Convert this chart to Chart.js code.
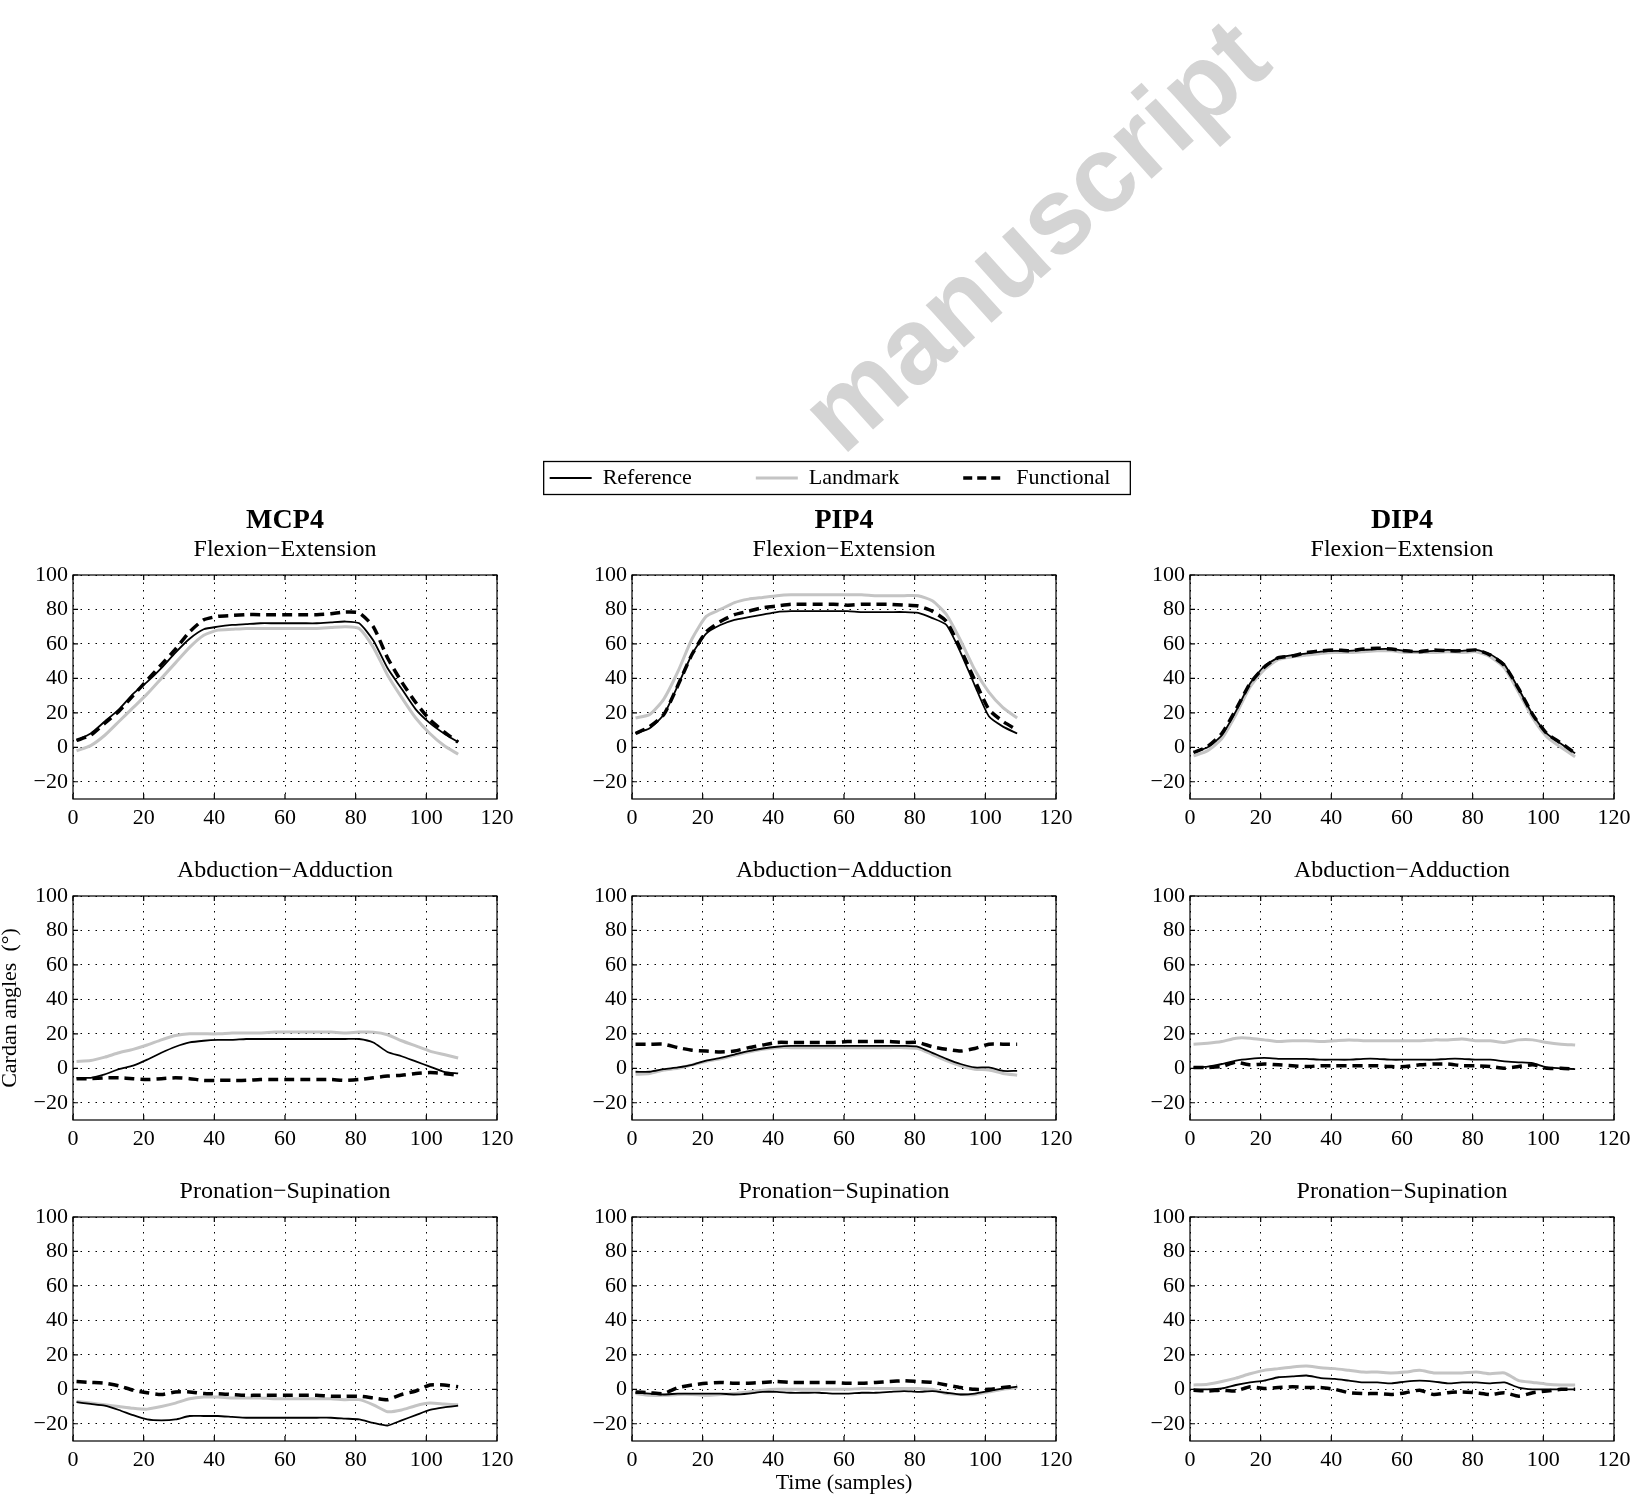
<!DOCTYPE html>
<html>
<head>
<meta charset="utf-8">
<script src="https://cdn.jsdelivr.net/npm/chart.js@4.4.1/dist/chart.umd.min.js"></script>
<style>
html, body { margin: 0; padding: 0; background: #fff; overflow: hidden; }
body { width: 1632px; height: 1496px; position: relative; }
.cell { position: absolute; }
</style>
</head>
<body>
<div class="cell" style="left:380px;top:0;width:900px;height:499px"><canvas id="legendCanvas"></canvas></div>
<div id="panels"></div>
<script>
// sample index (every 4th sample of the 109-sample trial)
const samples = [1, 5, 9, 13, 17, 21, 25, 29, 33, 37, 41, 45, 49, 53, 57, 61, 65, 69, 73, 77, 81, 85, 89, 93, 97, 101, 105, 109]
const xTicks = [0, 20, 40, 60, 80, 100, 120]
const yTicks = [-20, 0, 20, 40, 60, 80, 100]

const joints = ['MCP4', 'PIP4', 'DIP4']
const motions = ['Flexion\u2212Extension', 'Abduction\u2212Adduction', 'Pronation\u2212Supination']
const seriesNames = ['Reference', 'Landmark', 'Functional']

// Flexion-Extension
const mcpFeRef = [4, 8, 15, 22, 31, 38, 46, 55, 63, 68.5, 70, 71, 71.5, 72, 72, 72, 72, 72, 72.5, 73, 72, 62, 46, 34, 22, 14, 8, 3]
const mcpFeLand = [-2, 1, 7, 15, 23, 31, 40, 49, 58, 65, 68, 68.5, 69, 69, 69, 69, 69, 69, 69.5, 70, 69, 58, 42, 29, 17, 8, 1, -4]
const mcpFeFunc = [4, 7, 14, 21, 30, 39, 48, 57, 67, 74, 76, 76.5, 77, 77, 77, 77, 77, 77, 77.5, 78.5, 78, 70, 52, 38, 26, 16, 9, 3]
const pipFeRef = [8, 11, 19, 36, 54, 66, 71, 74, 75.5, 77, 78.5, 79, 79, 79, 79, 79, 78.5, 78.5, 78.5, 78.5, 78, 75, 71, 55, 36, 18, 12, 8]
const pipFeLand = [17, 19, 28, 44, 63, 76, 80, 84, 86, 87, 88, 88.5, 88.5, 88.5, 88.5, 88.5, 88.5, 88, 88, 88, 88, 85, 77, 62, 45, 32, 23, 17]
const pipFeFunc = [8, 12, 19, 36, 54, 67, 73, 77, 79, 81, 82, 83, 83, 83, 83, 82.5, 83, 83, 83, 82.5, 82, 79, 73, 57, 39, 22, 15, 10]
const dipFeRef = [-3, 0, 7, 21, 37, 47, 52, 53.5, 54.5, 55.5, 56, 56, 56.5, 57, 57, 56, 55.5, 56, 56.5, 56, 56.5, 54, 48, 34, 19, 8, 2, -3.5]
const dipFeLand = [-5, -2, 5, 19, 35, 45, 51, 52.5, 53.5, 54.5, 55, 55, 55.5, 56, 56, 55, 55, 55, 55.5, 55, 55.5, 52.5, 46, 32, 17, 6, 0, -5.5]
const dipFeFunc = [-3, 0.5, 8, 22, 37, 46.5, 52, 53, 55, 56, 56.5, 56, 57, 57.5, 57, 56, 55.5, 56.5, 56, 56, 56.5, 53.5, 47.5, 34, 19, 8, 2.5, -3.5]

// Abduction-Adduction
const mcpAaRef = [-5.5, -5.5, -3.5, -0.5, 1.5, 5, 9, 12.5, 15, 16, 16.5, 16.5, 17, 17, 17, 17, 17, 17, 17, 17, 17, 15, 9.5, 7, 4, 1, -2, -3]
const mcpAaLand = [4, 4.5, 6.5, 9, 11, 13.5, 16.5, 19, 20, 20, 20, 20.5, 20.5, 20.5, 21, 21, 21, 21, 21, 20.5, 21, 21, 19.5, 16, 13, 10, 8, 6]
const mcpAaFunc = [-6, -6, -5.5, -5.5, -6, -6.5, -6, -5.5, -6, -7, -7, -7, -7, -6.5, -6.5, -6.5, -6.5, -6.5, -6.5, -7, -6.5, -5.5, -4.5, -4, -3, -2.5, -3, -4]
const pipAaRef = [-2, -2, -0.5, 0.5, 2, 4.5, 6, 8, 10, 11.5, 12.5, 13, 13, 13, 13, 13, 13, 13, 13, 13, 12.5, 9, 5.5, 2.5, 0.5, 0.5, -1.5, -1.5]
const pipAaLand = [-3.5, -3, -1, 0, 2, 4, 5.5, 7.5, 9.5, 11, 12, 12, 12, 12, 12, 12, 12, 12, 12, 12, 11.5, 8, 4.5, 1.5, -0.5, -1, -3, -4]
const pipAaFunc = [14, 14, 14, 12, 10.5, 10, 9.5, 10, 12, 13.5, 15, 15, 15, 15, 15, 15.5, 15.5, 15.5, 15.5, 15, 15, 12.5, 11, 10, 11.5, 14, 14, 14]
const dipAaRef = [0.5, 1, 2.5, 4.5, 5.5, 6, 5.5, 5.5, 5.5, 5, 5, 5, 5.5, 5.5, 5, 5, 5, 5, 5.5, 5.5, 5, 5, 4, 3.5, 3, 0.5, 0, -0.5]
const dipAaLand = [14, 14.5, 15.5, 17.5, 17.5, 16.5, 15.5, 16, 16, 15.5, 16, 16.5, 16, 16, 16, 16, 16, 16.5, 16.5, 17, 16, 16, 15, 16.5, 16.5, 15, 14, 13.5]
const dipAaFunc = [0.5, 0.5, 1, 3.5, 2, 2.5, 2, 1.5, 1, 1.5, 1.5, 1.5, 1.5, 1.5, 1, 1, 2, 2.5, 2.5, 1.5, 1.5, 1, 0, 1, 2, 0, 0, -0.5]

// Pronation-Supination
const mcpPsRef = [-7.5, -8.5, -9.5, -12, -15, -17.5, -18, -17.5, -15.5, -15.5, -15.5, -16, -16.5, -16.5, -16.5, -16.5, -16.5, -16.5, -16.5, -17, -17.5, -19.5, -21, -18, -15, -12, -10.5, -9.5]
const mcpPsLand = [-7, -8, -9, -10, -11, -11.5, -10, -8, -5.5, -4.5, -4.5, -5, -5, -5, -5.5, -5.5, -5.5, -5.5, -5.5, -6, -6, -9, -13, -12, -9.5, -8, -8.5, -9]
const mcpPsFunc = [4.5, 4, 3.5, 2, -0.5, -2, -3, -1.5, -1.5, -2.5, -2.5, -3, -3.5, -3.5, -3.5, -3.5, -3.5, -3.5, -4, -4, -4, -5, -6, -3, -1, 2.5, 2.5, 1.5]
const pipPsRef = [-2, -2.5, -3, -2.5, -2.5, -2.5, -2.5, -3, -2.5, -1.5, -1.5, -2, -2, -2, -2.5, -2.5, -2, -2, -1.5, -1, -1.5, -1, -2, -3, -2.5, -1, 0.5, 1.5]
const pipPsLand = [-2.5, -3.5, -3.5, -3, -3, -3.5, -3, -2.5, -1.5, -0.5, 0, 0, 0, 0, 0, 0, 0.5, 0.5, 0.5, 0.5, 0.5, 0, -2.5, -3, -3, -1.5, 0, 1]
const pipPsFunc = [-1.5, -2, -2.5, 1, 2.5, 3.5, 4, 3.5, 3.5, 4, 4.5, 4, 4, 4, 4, 3.5, 3.5, 4, 4.5, 5, 4.5, 4, 2.5, 1, 0, 0, 1, 2]
const dipPsRef = [0, 0, 0.5, 2.5, 4, 5, 7, 7.5, 8, 6.5, 6, 5, 4, 4, 3.5, 4.5, 5, 4.5, 3.5, 4, 4, 3.5, 4, 1, 0, 0, 0, 0]
const dipPsLand = [2.5, 3, 4.5, 6.5, 9, 11, 12, 13, 13.5, 12.5, 12, 11, 10, 10, 9.5, 10, 11, 9.5, 9.5, 9.5, 10, 9, 9.5, 5, 4, 3, 2.5, 2.5]
const dipPsFunc = [-0.5, -1, -0.5, -1, 1.5, 0.5, 1, 1.5, 1, 1, 0, -2, -2.5, -2.5, -3, -2, -0.5, -3, -2, -1.5, -2, -3, -2, -4, -2, -1, 0, 0]

const panelData = [
    [[mcpFeRef, mcpFeLand, mcpFeFunc], [pipFeRef, pipFeLand, pipFeFunc], [dipFeRef, dipFeLand, dipFeFunc]],
    [[mcpAaRef, mcpAaLand, mcpAaFunc], [pipAaRef, pipAaLand, pipAaFunc], [dipAaRef, dipAaLand, dipAaFunc]],
    [[mcpPsRef, mcpPsLand, mcpPsFunc], [pipPsRef, pipPsLand, pipPsFunc], [dipPsRef, dipPsLand, dipPsFunc]]
]

const seriesColors = ['#000000', '#c4c4c4', '#000000']
const seriesWidths = [1.8, 3, 3.5]
const seriesDashes = [[], [], [10, 6]]
const seriesOrder = [1, 2, 0]

const serif = "'Liberation Serif', 'Times New Roman', serif"
Chart.defaults.font.family = serif
Chart.defaults.color = '#000'
Chart.defaults.animation = false

// page layout of the plot boxes
const plotLefts = [73, 632, 1190]
const plotTops = [575, 896, 1217]
const plotW = 424
const plotH = 224
const yAxisW = 76
const padRight = 28

const minusFmt = v => (v < 0 ? '\u2212' + Math.abs(v) : String(v))

const framePlugin = {
    id: 'frame',
    afterDraw(chart) {
        const {ctx, chartArea: a, scales} = chart
        ctx.save()
        ctx.setLineDash([])
        ctx.strokeStyle = '#000'
        ctx.lineWidth = 1.2
        ctx.strokeRect(a.left, a.top, a.right - a.left, a.bottom - a.top)
        ctx.beginPath()
        xTicks.forEach(v => {
            const px = scales.x.getPixelForValue(v)
            ctx.moveTo(px, a.bottom); ctx.lineTo(px, a.bottom - 5)
            ctx.moveTo(px, a.top); ctx.lineTo(px, a.top + 5)
        })
        yTicks.forEach(v => {
            const py = scales.y.getPixelForValue(v)
            ctx.moveTo(a.left, py); ctx.lineTo(a.left + 5, py)
            ctx.moveTo(a.right, py); ctx.lineTo(a.right - 5, py)
        })
        ctx.stroke()
        ctx.restore()
    }
}

const panelsEl = document.getElementById('panels')

for (let r = 0; r < 3; r++) {
    for (let c = 0; c < 3; c++) {
        const topBlock = r === 0 ? 72 : 44
        const hasXTitle = r === 2 && c === 1
        const hasYTitle = r === 1 && c === 0
        const xAxisH = hasXTitle ? 55 : 40

        const wrap = document.createElement('div')
        wrap.className = 'cell'
        wrap.style.left = (plotLefts[c] - yAxisW) + 'px'
        wrap.style.top = (plotTops[r] - topBlock) + 'px'
        wrap.style.width = (yAxisW + plotW + padRight) + 'px'
        wrap.style.height = (topBlock + plotH + xAxisH) + 'px'
        const canvas = document.createElement('canvas')
        wrap.appendChild(canvas)
        panelsEl.appendChild(wrap)

        const vals = panelData[r][c]
        const datasets = seriesNames.map((name, k) => ({
            label: name,
            data: vals[k],
            borderColor: seriesColors[k],
            borderWidth: seriesWidths[k],
            borderDash: seriesDashes[k],
            order: seriesOrder[k],
            pointRadius: 0,
            tension: 0.2,
            fill: false
        }))

        new Chart(canvas, {
            type: 'line',
            data: { labels: samples, datasets: datasets },
            options: {
                responsive: true,
                maintainAspectRatio: false,
                events: [],
                layout: { padding: { top: 4, right: padRight, bottom: 0, left: 0 } },
                scales: {
                    x: {
                        type: 'linear',
                        min: 0,
                        max: 120,
                        afterBuildTicks: s => { s.ticks = xTicks.map(v => ({ value: v })) },
                        afterFit: s => { s.height = xAxisH },
                        ticks: { font: { size: 22 }, padding: 6, autoSkip: false, maxRotation: 0, callback: minusFmt },
                        grid: { color: '#000', lineWidth: 1, drawTicks: false },
                        border: { display: false, dash: [1.5, 6] },
                        title: { display: hasXTitle, text: 'Time (samples)', font: { size: 22 }, padding: { top: 0, bottom: 0 } }
                    },
                    y: {
                        min: -30,
                        max: 100,
                        afterBuildTicks: s => { s.ticks = yTicks.map(v => ({ value: v })) },
                        afterFit: s => { s.width = yAxisW },
                        ticks: { font: { size: 22 }, padding: 5, autoSkip: false, callback: minusFmt },
                        grid: { color: '#000', lineWidth: 1, drawTicks: false },
                        border: { display: false, dash: [1.5, 6] },
                        title: { display: hasYTitle, text: 'Cardan angles  (\u00b0)', font: { size: 22 }, padding: 0 }
                    }
                },
                plugins: {
                    legend: { display: false },
                    tooltip: { enabled: false },
                    title: {
                        display: r === 0,
                        text: joints[c],
                        fullSize: false,
                        font: { size: 28, weight: 'bold', lineHeight: 1 },
                        padding: 0
                    },
                    subtitle: {
                        display: true,
                        text: motions[r],
                        fullSize: false,
                        font: { size: 24, lineHeight: 1.2 },
                        padding: { top: 0, bottom: 11.2 }
                    }
                }
            },
            plugins: [framePlugin]
        })
    }
}

// shared legend (with the faint "manuscript" watermark behind it)
const legendPlugin = {
    id: 'legendFrame',
    beforeDraw(chart) {
        const {ctx, width} = chart
        const boxes = chart.legend.legendHitBoxes
        const left = Math.min(...boxes.map(b => b.left)) - 6
        const right = Math.max(...boxes.map(b => b.left + b.width)) + 20
        const top = boxes[0].top - 5.5
        const bottom = boxes[0].top + boxes[0].height + 5.5

        ctx.save()
        ctx.beginPath()
        ctx.rect(0, 0, width, top)
        ctx.clip()
        ctx.translate(659, 240)
        ctx.rotate(-42 * Math.PI / 180)
        ctx.fillStyle = '#d4d4d4'
        ctx.font = "bold 108px 'Liberation Sans', Arial, sans-serif"
        ctx.textAlign = 'center'
        ctx.textBaseline = 'middle'
        ctx.fillText('manuscript', 0, 0)
        ctx.restore()

        ctx.save()
        ctx.fillStyle = '#fff'
        ctx.fillRect(left, top, right - left, bottom - top)
        ctx.strokeStyle = '#000'
        ctx.lineWidth = 1.3
        ctx.strokeRect(left, top, right - left, bottom - top)
        ctx.restore()
    }
}

const legendWidths = [2, 3, 3.5]
const legendDashes = [[], [], [9, 5]]

new Chart(document.getElementById('legendCanvas'), {
    type: 'line',
    data: {
        labels: [],
        datasets: seriesNames.map((name, k) => ({
            label: name,
            data: [],
            borderColor: seriesColors[k],
            backgroundColor: seriesColors[k],
            borderWidth: legendWidths[k],
            borderDash: legendDashes[k]
        }))
    },
    options: {
        responsive: true,
        maintainAspectRatio: false,
        events: [],
        layout: { padding: 0 },
        scales: { x: { display: false }, y: { display: false } },
        plugins: {
            tooltip: { enabled: false },
            legend: {
                position: 'bottom',
                labels: {
                    usePointStyle: true,
                    pointStyle: 'line',
                    pointStyleWidth: 42,
                    padding: 64,
                    color: '#000',
                    font: { size: 22 },
                    generateLabels: chart => {
                        const items = Chart.defaults.plugins.legend.labels.generateLabels(chart)
                        items.forEach(item => {
                            const ds = chart.data.datasets[item.datasetIndex]
                            item.lineDash = ds.borderDash
                            item.lineWidth = ds.borderWidth
                            item.strokeStyle = ds.borderColor
                        })
                        return items
                    }
                }
            }
        }
    },
    plugins: [legendPlugin]
})
</script>
</body>
</html>
